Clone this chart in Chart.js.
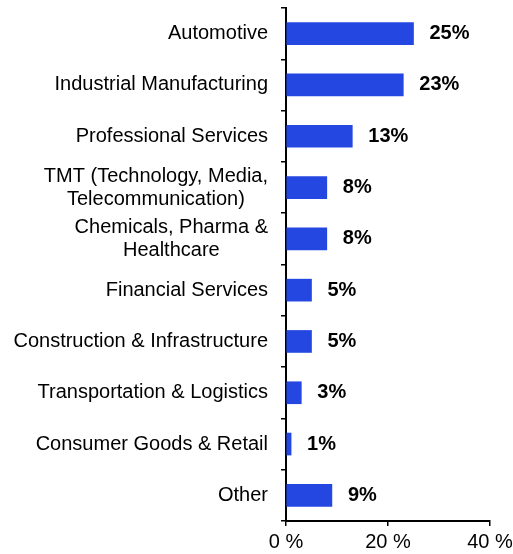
<!DOCTYPE html>
<html>
<head>
<meta charset="utf-8">
<script src="https://cdn.jsdelivr.net/npm/chart.js@4/dist/chart.umd.min.js"></script>
<style>
  html, body { margin: 0; padding: 0; background: #ffffff; }
  #wrap { width: 513px; height: 554px; position: relative; }
</style>
</head>
<body>
<div id="wrap"><canvas id="c" width="513" height="554"></canvas></div>
<script>
const categories = [
  ["Automotive"],
  ["Industrial Manufacturing"],
  ["Professional Services"],
  ["TMT (Technology, Media,", "Telecommunication)"],
  ["Chemicals, Pharma &", "Healthcare"],
  ["Financial Services"],
  ["Construction & Infrastructure"],
  ["Transportation & Logistics"],
  ["Consumer Goods & Retail"],
  ["Other"]
];
const shares = [25, 23, 13, 8, 8, 5, 5, 3, 1, 9];
const xTickValues = [0, 20, 40];

const FONT = '"Liberation Sans", Arial, Helvetica, sans-serif';

const labelPlugin = {
  id: 'customLabels',
  afterDraw(chart) {
    const ctx = chart.ctx;
    const yScale = chart.scales.y;
    const area = chart.chartArea;
    ctx.save();
    ctx.font = '20px ' + FONT;
    ctx.fillStyle = '#000';
    ctx.textBaseline = 'middle';
    ctx.textAlign = 'center';
    const lineH = 23;
    const rightEdge = area.left - 18;
    categories.forEach((lines, i) => {
      const yc = yScale.getPixelForValue(i);
      const blockW = Math.max(...lines.map(l => ctx.measureText(l).width));
      const cx = rightEdge - blockW / 2;
      const y0 = yc - (lines.length - 1) * lineH / 2;
      lines.forEach((l, j) => ctx.fillText(l, cx, y0 + j * lineH));
    });
    ctx.font = 'bold 20px ' + FONT;
    ctx.textAlign = 'left';
    const meta = chart.getDatasetMeta(0);
    meta.data.forEach((bar, i) => {
      ctx.fillText(shares[i] + '%', bar.x + 16, bar.y);
    });
    ctx.restore();
  }
};

new Chart(document.getElementById('c'), {
  type: 'bar',
  data: {
    labels: categories.map(l => l.join(' ')),
    datasets: [{
      data: shares,
      backgroundColor: '#2447E1',
      borderWidth: 0,
      barThickness: 22
    }]
  },
  options: {
    indexAxis: 'y',
    responsive: false,
    animation: false,
    devicePixelRatio: 1,
    layout: { padding: { top: 8, right: 0, bottom: 0, left: 0 } },
    plugins: { legend: { display: false }, tooltip: { enabled: false } },
    scales: {
      y: {
        type: 'category',
        offset: true,
        grid: { display: true, drawOnChartArea: false, drawTicks: true, tickLength: 5, color: '#000', offset: true, lineWidth: 1.5 },
        border: { display: true, color: '#000', width: 2 },
        ticks: { display: false },
        afterFit(scale) { scale.width = 286; scale.paddingTop = 0; scale.paddingBottom = 0; }
      },
      x: {
        type: 'linear',
        min: xTickValues[0],
        max: xTickValues[xTickValues.length - 1],
        afterBuildTicks(scale) { scale.ticks = xTickValues.map(v => ({ value: v })); },
        grid: { display: true, drawOnChartArea: false, drawTicks: true, tickLength: 5, color: '#000', lineWidth: 1.5 },
        border: { display: true, color: '#000', width: 2 },
        ticks: {
          color: '#000',
          padding: 4,
          maxRotation: 0,
          font: { size: 20, family: FONT },
          callback: v => v + ' %'
        },
        afterFit(scale) { scale.height = 33; scale.paddingRight = 23; scale.paddingLeft = 0; }
      }
    }
  },
  plugins: [labelPlugin]
});
</script>
</body>
</html>
